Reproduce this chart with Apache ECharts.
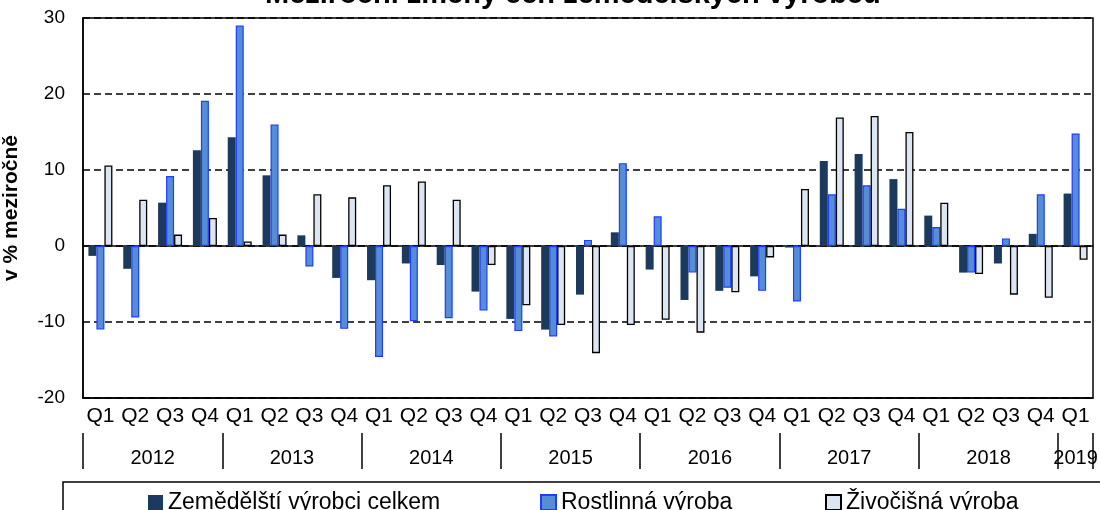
<!DOCTYPE html>
<html>
<head>
<meta charset="utf-8">
<script src="https://cdn.jsdelivr.net/npm/echarts@6/dist/echarts.min.js"></script>
<style>
  html, body { margin: 0; padding: 0; background: #fff; }
  #root { width: 1100px; height: 510px; }
</style>
</head>
<body>
<div id="root"></div>
<script>
// tick labels
const quarters = [
  'Q1','Q2','Q3','Q4', 'Q1','Q2','Q3','Q4', 'Q1','Q2','Q3','Q4', 'Q1','Q2','Q3','Q4',
  'Q1','Q2','Q3','Q4', 'Q1','Q2','Q3','Q4', 'Q1','Q2','Q3','Q4', 'Q1'
]
const years = ['2012','2013','2014','2015','2016','2017','2018','2019']

// series values, y/y change in %
const total = [
  -1.3, -3.0, 5.7, 12.6,
  14.3, 9.3, 1.4, -4.2,
  -4.5, -2.3, -2.5, -6.0,
  -9.6, -11.0, -6.4, 1.8,
  -3.1, -7.1, -5.9, -4.0,
  -0.2, 11.2, 12.1, 8.8,
  4.0, -3.5, -2.3, 1.6,
  6.9
]
const crop = [
  -11.0, -9.4, 9.2, 19.1,
  29.0, 16.0, -2.7, -10.9,
  -14.6, -9.9, -9.5, -8.5,
  -11.2, -11.9, 0.8, 10.9,
  3.9, -3.5, -5.5, -5.9,
  -7.3, 6.8, 8.0, 4.9,
  2.5, -3.5, 1.0, 6.8,
  14.8
]
const animal = [
  10.6, 6.1, 1.5, 3.7,
  0.6, 1.5, 6.8, 6.4,
  8.0, 8.5, 6.1, -2.5,
  -7.8, -10.4, -14.1, -10.4,
  -9.7, -11.4, -6.1, -1.5,
  7.5, 16.9, 17.1, 15.0,
  5.7, -3.7, -6.4, -6.8,
  -1.8
]
const names = ['Zemědělští výrobci celkem', 'Rostlinná výroba', 'Živočišná výroba']

const font = 'Liberation Sans, Arial, sans-serif'

// year boundaries and centres on the helper value axis
const yearEdges = []
const yearMids = []
for (let i = 0; i < years.length; i++) {
  const start = i * 4
  const end = Math.min(start + 4, quarters.length)
  yearEdges.push(start)
  yearMids.push((start + end) / 2)
}
yearEdges.push(quarters.length)

const myChart = echarts.init(document.getElementById('root'))
const option = {
  animation: false,
  title: {
    text: 'Meziroční změny cen zemědělských výrobců',
    left: 260,
    top: -25,
    textStyle: { fontFamily: font, fontSize: 29, fontWeight: 'bold', color: '#000' }
  },
  legend: [0, 1, 2].map((i, k) => ({
    data: [names[i]],
    left: [143, 535, 820][k],
    top: 486,
    icon: 'rect',
    itemWidth: 15,
    itemHeight: 15,
    itemGap: 0,
    textStyle: { fontFamily: font, fontSize: 23, color: '#000' }
  })),
  graphic: [{
    type: 'rect',
    shape: { x: 63, y: 482, width: 1100, height: 60 },
    style: { fill: 'none', stroke: '#000', lineWidth: 1.5 },
    silent: true
  }],
  grid: {
    left: 83, right: 7, top: 18, bottom: 112,
    outerBoundsMode: 'none',
    containLabel: false,
    show: true, borderColor: '#000', borderWidth: 1.5
  },
  xAxis: [
    {
      type: 'category',
      data: quarters,
      axisLine: { onZero: true, lineStyle: { color: '#000', width: 1.5 } },
      axisTick: { interval: 0, length: 5, lineStyle: { color: '#000', width: 1.5 } },
      axisLabel: { show: false },
      splitLine: { show: false }
    },
    {
      type: 'category',
      data: quarters,
      position: 'bottom',
      axisLine: { onZero: false, lineStyle: { color: '#000', width: 1.5 } },
      axisTick: { interval: 0, length: 35, lineStyle: { color: '#000', width: 1.5 } },
      axisLabel: { interval: 0, margin: 8, fontFamily: font, fontSize: 21, color: '#000' }
    },
    {
      type: 'value',
      min: 0,
      max: quarters.length,
      position: 'bottom',
      offset: 35,
      axisLine: { show: false, onZero: false },
      splitLine: { show: false },
      axisTick: {
        show: true, length: 36, customValues: yearEdges,
        lineStyle: { color: '#000', width: 1.5 }
      },
      axisLabel: {
        customValues: yearMids,
        margin: 15,
        fontFamily: font, fontSize: 20, color: '#000',
        formatter: v => years[Math.floor(v / 4)]
      }
    }
  ],
  yAxis: {
    type: 'value',
    min: -20,
    max: 30,
    interval: 10,
    name: 'v % meziročně',
    nameLocation: 'middle',
    nameRotate: 90,
    nameGap: 61,
    nameTextStyle: { fontFamily: font, fontSize: 21, fontWeight: 'bold', color: '#000' },
    axisLine: { show: true, lineStyle: { color: '#000', width: 1.5 } },
    axisTick: { show: false },
    axisLabel: { margin: 18, fontFamily: font, fontSize: 19, color: '#000' },
    splitLine: { lineStyle: { color: '#000', width: 1.5, type: [7, 4] } }
  },
  series: [
    {
      name: names[0],
      type: 'bar',
      data: total,
      barWidth: 8,
      barGap: '0%',
      itemStyle: { color: '#1c3a5e' }
    },
    {
      name: names[1],
      type: 'bar',
      data: crop,
      barWidth: 8,
      itemStyle: { color: '#558ed5', borderColor: '#1f3cff', borderWidth: 1.2 }
    },
    {
      name: names[2],
      type: 'bar',
      data: animal,
      barWidth: 8,
      itemStyle: { color: '#dce6f2', borderColor: '#000', borderWidth: 1.3 }
    }
  ]
}
if (option && typeof option === 'object') {
  myChart.setOption(option, true)
}
</script>
</body>
</html>
